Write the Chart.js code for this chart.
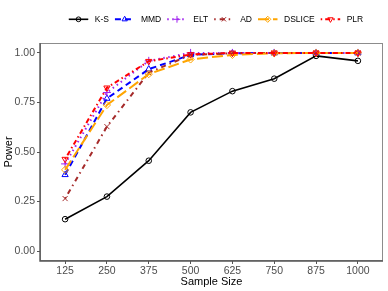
<!DOCTYPE html>
<html>
<head>
<meta charset="utf-8">
<script src="https://cdn.jsdelivr.net/npm/chart.js@4/dist/chart.umd.min.js"></script>
<style>
html,body{margin:0;padding:0;background:#fff;}
canvas{display:block;}
</style>
</head>
<body>
<canvas id="c" width="388" height="291"></canvas>
<script>
const sampleSizes = [125, 250, 375, 500, 625, 750, 875, 1000];
const seriesNames = ["K-S", "MMD", "ELT", "AD", "DSLICE", "PLR"];
const ksValues     = [0.161, 0.275, 0.456, 0.700, 0.807, 0.870, 0.985, 0.960];
const mmdValues    = [0.385, 0.770, 0.918, 0.990, 0.998, 1.000, 1.000, 1.000];
const eltValues    = [0.440, 0.800, 0.960, 1.000, 1.000, 1.000, 1.000, 1.000];
const adValues     = [0.265, 0.628, 0.900, 0.990, 0.998, 1.000, 1.000, 1.000];
const dsliceValues = [0.410, 0.737, 0.893, 0.967, 0.990, 0.998, 1.000, 1.000];
const plrValues    = [0.464, 0.824, 0.958, 0.992, 1.000, 1.000, 1.000, 1.000];
const yTickValues  = [0, 0.25, 0.5, 0.75, 1];

const styles = [
  {color:"#000000", dash:[], width:1.6, point:"circle", rot:0, r:2.8},
  {color:"#0000FF", dash:[6,4], width:2, point:"triangle", rot:0, r:3.6},
  {color:"#A020F0", dash:[1.5,3.5], width:2, point:"cross", rot:0, r:4},
  {color:"#A52A2A", dash:[1.5,4,5,4], width:2, point:"crossRot", rot:0, r:3.6},
  {color:"#FFA500", dash:[11,4], width:2, point:"rectRot", rot:0, r:3.6},
  {color:"#FF0000", dash:[1.5,3,5,3], width:2, point:"triangle", rot:180, r:3.6}
];
const allValues = [ksValues, mmdValues, eltValues, adValues, dsliceValues, plrValues];

const datasets = seriesNames.map((name, i) => ({
  label: name,
  data: sampleSizes.map((x, j) => ({x: x, y: allValues[i][j]})),
  borderColor: styles[i].color,
  backgroundColor: "rgba(0,0,0,0)",
  borderWidth: styles[i].width,
  borderDash: styles[i].dash,
  pointStyle: styles[i].point,
  pointRotation: styles[i].rot,
  pointRadius: styles[i].r,
  pointBorderWidth: 1,
  pointBackgroundColor: "rgba(0,0,0,0)",
  pointBorderColor: styles[i].color,
  tension: 0,
  order: seriesNames.length - i
}));

function drawMarker(ctx, st, x, y) {
  const opts = {pointStyle: st.point, rotation: st.rot, radius: st.r * 0.85, borderWidth: 1};
  ctx.save();
  ctx.strokeStyle = st.color;
  ctx.fillStyle = "rgba(0,0,0,0)";
  ctx.lineWidth = 1;
  ctx.setLineDash([]);
  if (Chart.helpers && Chart.helpers.drawPoint) {
    Chart.helpers.drawPoint(ctx, opts, x, y);
  }
  ctx.restore();
}

const customPlugin = {
  id: "custom",
  beforeDatasetsDraw(chart) {
    const a = chart.chartArea, ctx = chart.ctx;
    ctx.save();
    ctx.strokeStyle = "#8c8c8c";
    ctx.lineWidth = 1;
    ctx.strokeRect(a.left + 0.5, a.top + 0.5, a.right - a.left - 1, a.bottom - a.top - 1);
    ctx.restore();
  },
  afterDatasetsDraw(chart) {
    const a = chart.chartArea, ctx = chart.ctx;
    ctx.save();
    ctx.strokeStyle = "#555555";
    ctx.lineWidth = 1.4;
    ctx.beginPath();
    ctx.moveTo(a.left, a.top);
    ctx.lineTo(a.left, a.bottom);
    ctx.lineTo(a.right, a.bottom);
    ctx.stroke();
    ctx.restore();
  },
  afterDraw(chart) {
    const ctx = chart.ctx, a = chart.chartArea;
    ctx.save();
    ctx.font = "8.5px 'Liberation Sans', Arial, sans-serif";
    ctx.textBaseline = "middle";
    const keyW = 19.5, gapKT = 6.5, gapTK = 6;
    let total = 0;
    seriesNames.forEach((n, i) => {
      total += keyW + gapKT + ctx.measureText(n).width + (i < seriesNames.length - 1 ? gapTK : 0);
    });
    let x = (a.left + a.right) / 2 + 4.5 - total / 2;
    const y = 19.3;
    seriesNames.forEach((n, i) => {
      const st = styles[i];
      ctx.save();
      ctx.strokeStyle = st.color;
      ctx.lineWidth = st.width;
      ctx.setLineDash(st.dash);
      ctx.beginPath();
      ctx.moveTo(x, y);
      ctx.lineTo(x + keyW, y);
      ctx.stroke();
      ctx.restore();
      drawMarker(ctx, st, x + keyW / 2, y);
      x += keyW + gapKT;
      ctx.fillStyle = "#000";
      ctx.fillText(n, x, y);
      x += ctx.measureText(n).width + gapTK;
    });
    ctx.restore();
  }
};

new Chart(document.getElementById("c"), {
  type: "line",
  data: {datasets: datasets},
  options: {
    responsive: false,
    animation: false,
    events: [],
    layout: {padding: {top: 43, right: 4, left: 0, bottom: 0}},
    plugins: {legend: {display: false}, tooltip: {enabled: false}},
    scales: {
      x: {
        type: "linear",
        min: 50,
        max: 1075,
        afterBuildTicks(scale) { scale.ticks = sampleSizes.map(v => ({value: v})); },
        afterFit(scale) { scale.height = 30; },
        grid: {display: true, drawOnChartArea: false, drawTicks: true, tickLength: 3, color: "#555555", lineWidth: 1},
        border: {display: false},
        ticks: {
          color: "#4d4d4d",
          font: {family: "'Liberation Sans', Arial, sans-serif", size: 10.5},
          padding: 1,
          maxRotation: 0,
          autoSkip: false,
          callback: v => String(v)
        },
        title: {
          display: true, text: "Sample Size", color: "#000",
          font: {family: "'Liberation Sans', Arial, sans-serif", size: 11},
          padding: {top: 0, bottom: 2}
        }
      },
      y: {
        type: "linear",
        min: -0.05,
        max: 1.05,
        afterBuildTicks(scale) { scale.ticks = yTickValues.map(v => ({value: v})); },
        afterFit(scale) { scale.width = 40; },
        grid: {display: true, drawOnChartArea: false, drawTicks: true, tickLength: 3, color: "#555555", lineWidth: 1},
        border: {display: false},
        ticks: {
          color: "#4d4d4d",
          font: {family: "'Liberation Sans', Arial, sans-serif", size: 10.5},
          padding: 2,
          callback: v => Number(v).toFixed(2)
        },
        title: {
          display: true, text: "Power", color: "#000",
          font: {family: "'Liberation Sans', Arial, sans-serif", size: 11},
          padding: {top: 2, bottom: 0}
        }
      }
    }
  },
  plugins: [customPlugin]
});
</script>
</body>
</html>
